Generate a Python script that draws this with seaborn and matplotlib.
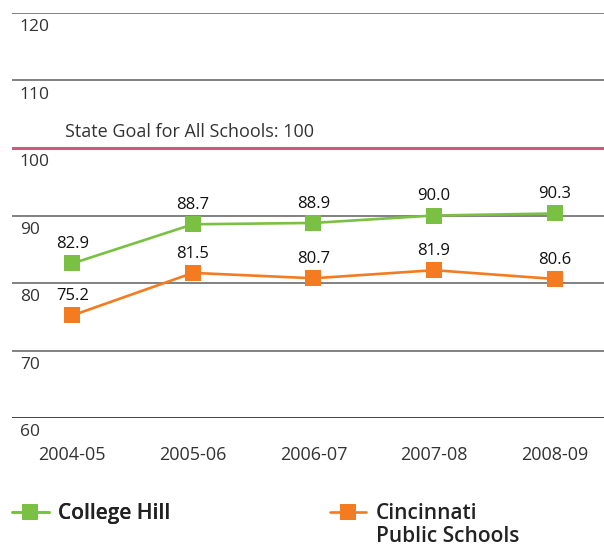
import pandas as pd
import seaborn as sns
import matplotlib.pyplot as plt
from matplotlib.text import Annotation

# values
years = ["2004-05", "2005-06", "2006-07", "2007-08", "2008-09"]
college_hill = [82.9, 88.7, 88.9, 90.0, 90.3]
cps = [75.2, 81.5, 80.7, 81.9, 80.6]
series_names = ["College Hill", "Cincinnati"]
cps_second_line = "Public Schools"
state_goal = 100
y_ticks = [60, 70, 80, 90, 100, 110, 120]

GREEN = "#7ac143"
ORANGE = "#f47b20"
GOAL = "#d2577e"


def main():
    sns.set_theme(style="white")
    plt.rcParams["font.family"] = ["Open Sans", "DejaVu Sans"]

    df = pd.DataFrame({
        "year": years * 2,
        "x": list(range(len(years))) * 2,
        "score": college_hill + cps,
        "school": [series_names[0]] * len(years) + [series_names[1]] * len(years),
    })

    fig = plt.figure(figsize=(6.04, 5.46), dpi=100)
    ax = fig.add_axes([0.02, 0.2344, 0.98, 0.7418])

    # gridlines, with the tick value written just under each one
    for t in y_ticks:
        if t == y_ticks[0]:
            ax.axhline(t, color="#333333", lw=1.3, zorder=1)
        elif t == state_goal:
            ax.axhline(t, color=GOAL, lw=2.2, zorder=1)
        else:
            ax.axhline(t, color="#777777", lw=1.3, zorder=1)
        ax.annotate(str(t), xy=(0.013, t), xycoords=("axes fraction", "data"),
                    xytext=(0, -4.5), textcoords="offset points",
                    ha="left", va="top", fontsize=12.5, color="#333333")

    sns.lineplot(data=df, x="x", y="score", hue="school",
                 palette=[GREEN, ORANGE], marker="s", markersize=11.5,
                 markeredgewidth=0, linewidth=1.9, ax=ax, zorder=3)

    for vals in (college_hill, cps):
        for i, v in enumerate(vals):
            ax.annotate(f"{v:.1f}", xy=(i, v), xytext=(0, 8),
                        textcoords="offset points", ha="center", va="bottom",
                        fontsize=12, color="#111111")

    ax.annotate(f"State Goal for All Schools: {state_goal}", xy=(0, state_goal),
                xytext=(-5, 5), textcoords="offset points", ha="left",
                va="bottom", fontsize=13, color="#333333")

    ax.set_ylim(60, 120)
    ax.set_xlim(-0.5, 4.41)
    ax.set_xticks(range(len(years)))
    ax.set_xticklabels(years, fontsize=13, color="#333333")
    ax.set_yticks([])
    ax.tick_params(axis="x", length=0, pad=20)
    ax.set_xlabel("")
    ax.set_ylabel("")
    sns.despine(ax=ax, left=True, bottom=True)

    handles, labels = ax.get_legend_handles_labels()
    ax.legend_.remove()
    leg_kw = dict(loc="upper left", frameon=False, borderpad=0,
                  borderaxespad=0, handlelength=1.75, handletextpad=0.45,
                  prop={"size": 15, "weight": "semibold"})
    leg1 = fig.legend(handles[:1], labels[:1], bbox_to_anchor=(0.02, 0.078),
                      **leg_kw)
    fig.add_artist(leg1)
    leg2 = fig.legend(handles[1:], labels[1:], bbox_to_anchor=(0.546, 0.078),
                      **leg_kw)
    for t in leg1.get_texts() + leg2.get_texts():
        t.set_color("#222222")

    # second line of the CPS label, hung under the legend text
    second = Annotation(cps_second_line, xy=(0, 0),
                        xycoords=leg2.get_texts()[0], xytext=(0, -1),
                        textcoords="offset points", ha="left", va="top",
                        fontsize=15, weight="semibold", color="#222222")
    second.set_zorder(10)
    fig.add_artist(second)

    fig.savefig("out.png", dpi=100)


if __name__ == "__main__":
    main()
